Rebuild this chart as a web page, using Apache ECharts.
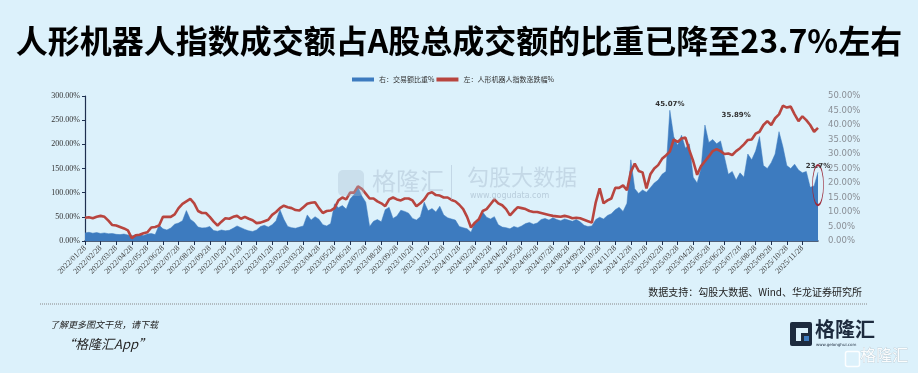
<!DOCTYPE html>
<html><head><meta charset="utf-8">
<script src="https://cdn.jsdelivr.net/npm/echarts@6/dist/echarts.min.js"></script>
<style>html,body{margin:0;padding:0;background:#dcf1fb;}#c{width:918px;height:373px;}</style>
</head><body><div id="c"></div>
<script>
// Month tick labels
const monthLabels = [
 '2022/01/28','2022/02/28','2022/03/28','2022/04/28','2022/05/28','2022/06/28','2022/07/28','2022/08/28','2022/09/28','2022/10/28','2022/11/28','2022/12/28',
 '2023/01/28','2023/02/28','2023/03/28','2023/04/28','2023/05/28','2023/06/28','2023/07/28','2023/08/28','2023/09/28','2023/10/28','2023/11/28','2023/12/28',
 '2024/01/28','2024/02/28','2024/03/28','2024/04/28','2024/05/28','2024/06/28','2024/07/28','2024/08/28','2024/09/28','2024/10/28','2024/11/28','2024/12/28',
 '2025/01/28','2025/02/28','2025/03/28','2025/04/28','2025/05/28','2025/06/28','2025/07/28','2025/08/28','2025/09/28','2025/10/28','2025/11/28'
];
const pointsPerMonth = 4;
// 右：交易额比重% (right axis)
const shareValues = [
 2.8,3.0,2.7,2.9,2.6,2.8,2.5,2.6,2.3,2.2,
 2.4,2.1,1.8,2.0,2.2,1.9,2.4,2.6,2.2,5.5,
 4.2,3.8,4.5,5.8,6.2,7.0,10.5,7.5,6.5,4.8,
 4.5,4.6,5.0,3.6,3.4,3.8,3.5,3.7,4.4,5.2,
 4.6,4.0,3.5,3.3,3.8,5.0,5.4,4.8,5.6,7.0,
 10.8,7.5,5.0,4.6,4.4,4.8,5.2,9.0,7.2,8.4,
 7.5,5.6,5.2,6.0,12.8,11.5,12.2,11.0,14.5,16.0,
 18.6,15.5,13.4,5.0,6.8,7.4,6.6,10.8,11.6,7.8,
 8.6,10.6,10.2,9.6,7.8,7.2,8.4,13.4,10.4,11.2,
 10.0,12.0,9.0,8.0,7.6,7.2,5.0,4.6,4.2,3.0,
 6.4,7.0,10.0,8.2,7.6,8.4,5.6,4.8,4.6,4.2,
 5.0,4.6,5.2,6.0,6.4,5.8,6.2,7.4,7.8,7.2,
 8.0,7.4,7.0,7.6,7.2,6.8,7.4,6.6,5.4,5.0,
 5.2,7.4,8.2,7.6,8.8,9.4,10.8,11.6,10.2,13.0,
 28.0,18.0,16.4,17.6,16.8,18.4,20.0,21.0,23.0,24.0,
 45.07,36.0,33.0,36.5,32.0,33.5,22.0,20.0,25.0,40.0,
 34.0,35.0,33.5,34.5,29.0,23.0,24.0,21.0,23.5,22.0,
 30.0,28.0,31.0,36.0,26.0,25.0,27.0,30.0,37.7,32.5,
 26.0,25.0,26.5,24.5,23.5,24.0,18.5,19.0,23.7
];
// 左：人形机器人指数涨跌幅% (left axis)
const indexChange = [
 48,49,47,50,52,50,42,33,32,29,
 26,22,6,12,13,16,18,28,29,32,
 50,50,50,55,68,77,82,87,78,62,
 58,58,50,40,32,40,47,46,50,52,
 46,50,46,43,37,38,41,44,54,60,
 68,73,70,68,64,63,70,77,79,80,
 68,58,62,63,68,84,90,86,100,100,
 113,108,98,88,88,82,78,72,86,90,
 86,84,88,88,84,72,78,86,98,101,
 95,94,90,90,85,82,75,66,50,28,
 38,45,62,66,76,86,78,74,66,53,
 62,70,68,66,62,60,60,58,56,54,
 52,51,50,52,50,47,48,47,44,41,
 38,80,109,78,84,88,110,110,115,105,
 143,160,145,142,109,138,150,157,170,177,
 185,210,205,212,214,188,165,137,155,165,
 175,186,190,186,180,181,178,186,192,200,
 209,210,222,226,240,248,240,254,262,280,
 276,278,262,248,258,250,240,226,234
];
const annotations = [
 {idx:150, val:45.07, text:'45.07%'},
 {idx:167, val:41, text:'35.89%'},
 {idx:188, val:23.7, text:'23.7%'}
];

const cats = shareValues.map((v,i)=>{
  const m = Math.floor(i/pointsPerMonth), s = i%pointsPerMonth;
  const base = monthLabels[m] || 'end';
  return s===0 ? base : base+'#'+s;
});
const isTick = (i)=> i%pointsPerMonth===0 && Math.floor(i/pointsPerMonth) < monthLabels.length;

const chart = echarts.init(document.getElementById('c'));
const serif = 'Liberation Serif';
chart.setOption({
  backgroundColor:'#dcf1fb',
  animation:false,
  title:{text:'人形机器人指数成交额占A股总成交额的比重已降至23.7%左右',left:'center',top:20,
    textStyle:{fontSize:32,fontWeight:'bold',color:'#000',fontFamily:'Noto Sans CJK SC'}},
  legend:{top:71,left:347,itemWidth:22,itemHeight:4,itemGap:2,
    textStyle:{fontSize:7,color:'#333',fontFamily:'Noto Sans CJK SC'},
    data:[{name:'右：交易额比重%',icon:'rect'},{name:'左：人形机器人指数涨跌幅%',icon:'rect'}]},
  grid:{left:85,right:100,top:96,bottom:132},
  xAxis:{type:'category',data:cats,boundaryGap:false,
    axisLine:{lineStyle:{color:'#1f3050',width:1.5}},
    axisTick:{interval:(i)=>isTick(i),length:4,lineStyle:{color:'#1f3050'}},
    axisLabel:{interval:(i)=>isTick(i),rotate:45,fontSize:8,color:'#444',fontFamily:serif,margin:6,
      formatter:(v)=>v.split('#')[0]}},
  yAxis:[
    {type:'value',min:0,max:300,interval:50,
     axisLine:{show:true,lineStyle:{color:'#1f3050',width:1.2}},
     axisTick:{show:true,length:3,lineStyle:{color:'#1f3050'}},
     splitLine:{show:false},
     axisLabel:{fontSize:8,color:'#333',fontFamily:serif,margin:5,formatter:(v)=>v.toFixed(2)+'%'}},
    {type:'value',min:0,max:50,interval:5,position:'right',
     axisLine:{show:false},axisTick:{show:false},splitLine:{show:false},
     axisLabel:{fontSize:8.5,color:'#8a8f96',fontFamily:'DejaVu Sans',margin:10,formatter:(v)=>v.toFixed(2)+'%'}}
  ],
  series:[
    {name:'右：交易额比重%',type:'line',yAxisIndex:1,data:shareValues,showSymbol:false,
     itemStyle:{color:'#3d7bbf'},lineStyle:{width:0.5,color:'#3d7bbf'},areaStyle:{color:'#3d7bbf',opacity:1},
     markPoint:{symbol:'circle',symbolSize:0,
       label:{show:true,position:'top',distance:3,fontSize:7,color:'#333',fontWeight:'bold',fontFamily:'DejaVu Sans'},
       data:annotations.map(a=>({coord:[cats[a.idx],a.val],label:{formatter:a.text}})).concat([
         {coord:[cats[188],19.3],symbol:'circle',symbolSize:[11,40],
          itemStyle:{color:'rgba(0,0,0,0)',borderColor:'#9c2a3a',borderWidth:1.2},label:{show:false}}
       ])}},
    {name:'左：人形机器人指数涨跌幅%',type:'line',yAxisIndex:0,data:indexChange,showSymbol:false,
     itemStyle:{color:'#b8453f'},lineStyle:{width:2.6,color:'#b8453f'}}
  ],
  graphic:[
    // watermarks
    {type:'rect',left:338,top:170,shape:{width:26,height:26,r:5},style:{fill:'rgba(170,190,210,0.35)'},z:50},
    {type:'text',left:372,top:169,style:{text:'格隆汇',fontSize:24,fill:'rgba(160,180,200,0.4)',fontFamily:'Noto Sans CJK SC'},z:50},
    {type:'rect',left:451,top:165,shape:{width:1,height:35},style:{fill:'rgba(170,190,210,0.5)'},z:50},
    {type:'text',left:467,top:166,style:{text:'勾股大数据',fontSize:22,fill:'rgba(160,180,200,0.4)',fontFamily:'Noto Sans CJK SC'},z:50},
    {type:'text',left:470,top:192,style:{text:'www.gogudata.com',fontSize:8,fill:'rgba(150,170,190,0.5)',fontFamily:'DejaVu Sans',letterSpacing:2},z:50},
    // footer
    {type:'text',right:56,top:287,style:{text:'数据支持：勾股大数据、Wind、华龙证券研究所',fontSize:10,fill:'#222',fontFamily:'Noto Sans CJK SC'}},
    {type:'line',shape:{x1:40,y1:304,x2:868,y2:304},style:{stroke:'#888',lineWidth:1,lineDash:[1,1]}},
    {type:'text',left:50,top:320,style:{text:'了解更多图文干货，请下载',fontSize:9,fill:'#222',fontStyle:'italic',fontFamily:'Noto Sans CJK SC'}},
    {type:'text',left:62,top:338,style:{text:'“格隆汇App”',fontSize:13,fill:'#222',fontStyle:'italic',fontFamily:'Noto Sans CJK SC'}},
    // logo
    {type:'rect',left:790,top:322,shape:{width:22,height:24,r:2},style:{fill:'#1d2b3e'}},
    {type:'rect',left:796,top:328,shape:{width:12,height:5},style:{fill:'#dcf1fb'}},
    {type:'rect',left:796,top:333,shape:{width:5,height:8},style:{fill:'#dcf1fb'}},
    {type:'rect',left:804,top:336,shape:{width:5,height:5},style:{fill:'#3d7bbf'}},
    {type:'text',left:815,top:319,style:{text:'格隆汇',fontSize:20,fontWeight:'bold',fill:'#1d2b3e',fontFamily:'Noto Sans CJK SC'}},
    {type:'text',left:816,top:343,style:{text:'www.gelonghui.com',fontSize:4,fill:'#1d2b3e',fontFamily:'DejaVu Sans'}},
    {type:'rect',left:843,top:349,shape:{width:14,height:15,r:2},style:{fill:'none',stroke:'rgba(255,255,255,0.9)',lineWidth:1.5}},
    {type:'text',left:860,top:347,style:{text:'格隆汇',fontSize:16,fill:'rgba(255,255,255,0.9)',stroke:'rgba(150,160,170,0.6)',lineWidth:0.5,fontFamily:'Noto Sans CJK SC'}}
  ]
});
</script></body></html>
